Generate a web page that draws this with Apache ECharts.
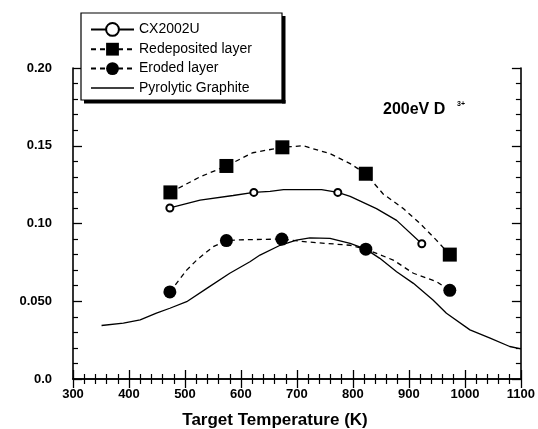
<!DOCTYPE html>
<html>
<head>
<meta charset="utf-8">
<script src="https://cdn.jsdelivr.net/npm/echarts@6/dist/echarts.min.js"></script>
<style>
  html, body { margin: 0; padding: 0; background: #fff; }
  #chart { width: 538px; height: 429px; }
</style>
</head>
<body>
<div id="chart"></div>
<script>
// measured points (open circles / squares / filled circles)
const cxPoints = [[473, 0.110], [623, 0.120], [773, 0.120], [923, 0.087]];
const redepPoints = [[474, 0.120], [574, 0.137], [674, 0.149], [823, 0.132], [973, 0.080]];
const erodedPoints = [[473, 0.056], [574, 0.089], [673, 0.090], [823, 0.0835], [973, 0.057]];

// guide curves
const cxCurve = [[527, 0.115], [586, 0.118], [652, 0.1207], [676, 0.1218], [744, 0.1218],
  [795, 0.1175], [842, 0.1096], [878, 0.102]];
const redepCurve = [[527, 0.130], [621, 0.1455], [711, 0.150], [759, 0.1449], [795, 0.1385],
  [854, 0.119], [890, 0.1096], [920, 0.100], [949, 0.0893]];
const erodedCurve = [[503, 0.070], [521, 0.0765], [550, 0.085], [598, 0.0895], [717, 0.0882],
  [795, 0.086], [872, 0.0765], [908, 0.068], [950, 0.0625]];
const graphiteCurve = [[351, 0.0344], [390, 0.0359], [420, 0.038], [449, 0.0423], [473, 0.0455],
  [503, 0.0497], [539, 0.0583], [580, 0.068], [616, 0.0754], [634, 0.0797], [670, 0.086],
  [699, 0.0893], [723, 0.0908], [759, 0.0904], [795, 0.0872], [823, 0.0835], [848, 0.0776],
  [878, 0.069], [908, 0.0615], [943, 0.0508], [967, 0.0423], [1009, 0.0316], [1045, 0.0263],
  [1080, 0.0209], [1100, 0.0194]];

const seriesNames = ['CX2002U', 'Redeposited layer', 'Eroded layer', 'Pyrolytic Graphite'];
const yTickLabels = { '0': '0.0', '0.05': '0.050', '0.1': '0.10', '0.15': '0.15', '0.2': '0.20' };

const font = 'Arial, "Liberation Sans", sans-serif';

// put markers and curve points together, curve points drawn without a symbol
function merge(points, curve) {
  const all = points.map(p => ({ value: p }))
    .concat(curve.map(p => ({ value: p, symbol: 'none' })));
  all.sort((a, b) => a.value[0] - b.value[0]);
  return all;
}

const tickStyle = { inside: true, length: 9, lineStyle: { color: '#000', width: 1.3 } };
const minorStyle = { show: true, splitNumber: 5, length: 5, lineStyle: { color: '#000', width: 1.2 } };
const lineAxis = { show: true, lineStyle: { color: '#000', width: 1.6 } };

const chart = echarts.init(document.getElementById('chart'));
chart.setOption({
  animation: false,
  backgroundColor: '#fff',
  grid: { left: 73, right: 17, top: 68, bottom: 50 },
  legend: {
    data: [
      seriesNames[0], seriesNames[1], seriesNames[2],
      { name: seriesNames[3], icon: 'path://M0,7 L43,7 L43,8.3 L0,8.3 Z' }
    ],
    orient: 'vertical',
    left: 90, top: 22,
    itemWidth: 43, itemHeight: 16, itemGap: 5.4,
    padding: 0,
    z: 10,
    textStyle: { fontFamily: font, fontSize: 14, color: '#000' },
    selectedMode: false
  },
  xAxis: [{
    type: 'value', min: 300, max: 1100, interval: 100,
    axisLine: lineAxis, axisTick: tickStyle, minorTick: minorStyle, splitLine: { show: false },
    axisLabel: { margin: 9, fontFamily: font, fontSize: 13, fontWeight: 'bold', color: '#000',
      formatter: v => String(v) }
  }, {
    type: 'value', position: 'top', min: 300, max: 1100, interval: 100,
    axisLine: lineAxis, axisTick: tickStyle, minorTick: minorStyle, splitLine: { show: false },
    axisLabel: { show: false }
  }],
  yAxis: [{
    type: 'value', min: 0, max: 0.2, interval: 0.05,
    axisLine: lineAxis, axisTick: tickStyle, minorTick: minorStyle, splitLine: { show: false },
    axisLabel: {
      margin: 21, fontFamily: font, fontSize: 13, fontWeight: 'bold', color: '#000',
      formatter: v => yTickLabels[String(+v.toFixed(2))]
    }
  }, {
    type: 'value', position: 'right', min: 0, max: 0.2, interval: 0.05,
    axisLine: lineAxis, axisTick: tickStyle, minorTick: minorStyle, splitLine: { show: false },
    axisLabel: { show: false }
  }],
  graphic: [
    // legend frame with a hard drop shadow on the right and bottom
    { type: 'rect', z: 6, shape: { x: 81, y: 13, width: 201, height: 87 },
      style: { fill: '#fff', stroke: '#000', lineWidth: 1.2 } },
    { type: 'rect', z: 7, shape: { x: 282, y: 16, width: 3.5, height: 87.5 }, style: { fill: '#000' } },
    { type: 'rect', z: 7, shape: { x: 84, y: 100, width: 201.5, height: 3.5 }, style: { fill: '#000' } },
    { type: 'text', z: 6, x: 383, y: 102,
      style: { text: '200eV D', font: 'bold 16px ' + font, fill: '#000' } },
    { type: 'text', z: 6, x: 457, y: 101,
      style: { text: '3+', font: 'bold 7px ' + font, fill: '#000' } },
    { type: 'text', z: 6, x: 275, y: 412,
      style: { text: 'Target Temperature (K)', font: 'bold 17px ' + font, fill: '#000', textAlign: 'center' } }
  ],
  series: [{
    name: seriesNames[0], type: 'line',
    data: merge(cxPoints, cxCurve),
    symbol: 'emptyCircle', symbolSize: 7, showAllSymbol: true,
    lineStyle: { color: '#000', width: 1.3 },
    itemStyle: { color: '#000', borderWidth: 1 },
    z: 3
  }, {
    name: seriesNames[1], type: 'line',
    data: merge(redepPoints, redepCurve),
    symbol: 'rect', symbolSize: 14, showAllSymbol: true,
    lineStyle: { color: '#000', width: 1.3, type: [5, 4] },
    itemStyle: { color: '#000' },
    z: 3
  }, {
    name: seriesNames[2], type: 'line',
    data: merge(erodedPoints, erodedCurve),
    symbol: 'circle', symbolSize: 13, showAllSymbol: true,
    lineStyle: { color: '#000', width: 1.3, type: [5, 4] },
    itemStyle: { color: '#000' },
    z: 3
  }, {
    name: seriesNames[3], type: 'line',
    data: graphiteCurve,
    symbol: 'none',
    lineStyle: { color: '#000', width: 1.3 },
    itemStyle: { color: '#000' },
    z: 2
  }]
});
</script>
</body>
</html>
